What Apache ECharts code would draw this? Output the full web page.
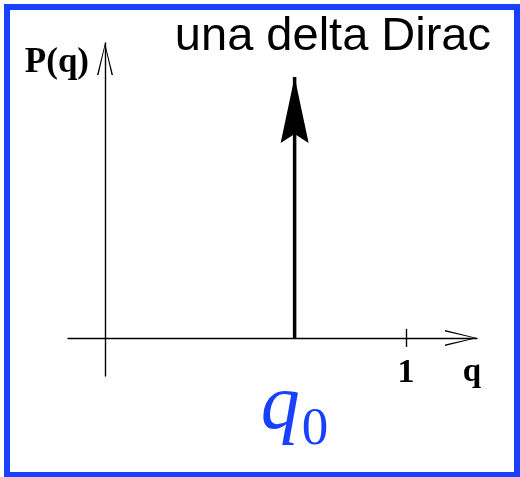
<!DOCTYPE html>
<html>
<head>
<meta charset="utf-8">
<title>una delta Dirac</title>
<script src="https://cdn.jsdelivr.net/npm/echarts@6/dist/echarts.min.js"></script>
<style>
  html, body { margin: 0; padding: 0; background: #fff; }
  #chart { width: 520px; height: 477px; }
</style>
</head>
<body>
<div id="chart"></div>
<script>
// Distribution P(q): a single Dirac delta located at q0
const titleText = 'una delta Dirac';
const xName = 'q';
const yName = 'P(q)';
const xExtent = [-0.123, 1.236];
const yExtent = [-0.146, 1.13];
const tickValues = [1];
const tickLabels = ['1'];
const deltaPosition = [0.63, 0.63];
const deltaHeight = [0, 1];
const deltaLabel = ['q', '0'];

const BLUE = '#1a40ff';
const SERIF = '"Liberation Serif", "DejaVu Serif", serif';
const SANS = '"Liberation Sans", Arial, sans-serif';

// open chevron used as the axis arrow heads
const openArrow = 'path://M8 0 L16 32 L14.5 32 L8 3.2 L1.5 32 L0 32 Z';
// filled notched arrow head on top of the delta spike
const spikeArrow = 'path://M14 0 L28 66 L14 57 L0 66 Z';

const deltaData = deltaPosition.map((x, i) => {
  const item = { value: [x, deltaHeight[i]] };
  if (i === 0) {
    item.label = {
      show: true,
      position: 'bottom',
      distance: 30,
      formatter: '{q|' + deltaLabel[0] + '}{z|' + deltaLabel[1] + '}',
      rich: {
        q: { fontFamily: SERIF, fontStyle: 'italic', fontSize: 78, color: BLUE, verticalAlign: 'bottom', padding: [0, 2, 10, 0] },
        z: { fontFamily: SERIF, fontSize: 53, color: BLUE, verticalAlign: 'bottom' }
      }
    };
  }
  return item;
});

const chart = echarts.init(document.getElementById('chart'), null, { renderer: 'canvas' });
chart.setOption({
  animation: false,
  backgroundColor: '#fff',
  title: {
    text: titleText,
    right: 24,
    top: 9,
    textStyle: { fontFamily: SANS, fontSize: 47, fontWeight: 'normal', color: '#000' }
  },
  graphic: [{
    type: 'rect',
    shape: { x: 7, y: 7, width: 510, height: 468 },
    style: { fill: 'none', stroke: BLUE, lineWidth: 6 },
    z: 100
  }],
  grid: { left: 68, right: 43, top: 43, bottom: 101, containLabel: false },
  xAxis: [{
    type: 'value',
    min: xExtent[0],
    max: xExtent[1],
    name: xName,
    nameLocation: 'end',
    nameGap: -5,
    nameTextStyle: { fontFamily: SERIF, fontWeight: 'bold', fontSize: 33, color: '#000', align: 'center', verticalAlign: 'top', padding: [18, 0, 0, 0] },
    axisLine: {
      onZero: true, onZeroAxisIndex: 0,
      symbol: ['none', openArrow], symbolSize: [16, 32], symbolOffset: [0, -16],
      lineStyle: { color: '#000', width: 1.4 }
    },
    axisTick: { show: true, customValues: tickValues, length: 9, lineStyle: { color: '#000', width: 1.4 } },
    axisLabel: {
      show: true, customValues: tickValues, margin: -20,
      formatter: v => tickLabels[tickValues.indexOf(v)] || '',
      fontFamily: SERIF, fontWeight: 'bold', fontSize: 34, color: '#000'
    },
    splitLine: { show: false }
  }, {
    // upper half of the crossing tick mark
    type: 'value',
    position: 'top',
    min: xExtent[0],
    max: xExtent[1],
    axisLine: { show: false, onZero: true, onZeroAxisIndex: 0 },
    axisTick: { show: true, customValues: tickValues, length: 9, lineStyle: { color: '#000', width: 1.4 } },
    axisLabel: { show: false },
    splitLine: { show: false }
  }],
  yAxis: {
    type: 'value',
    min: yExtent[0],
    max: yExtent[1],
    name: yName,
    nameLocation: 'end',
    nameGap: -2,
    nameTextStyle: { fontFamily: SERIF, fontWeight: 'bold', fontSize: 35, color: '#000', align: 'right', verticalAlign: 'top', padding: [0, 16, 0, 0] },
    axisLine: {
      onZero: true, onZeroAxisIndex: 0,
      symbol: ['none', openArrow], symbolSize: [16, 32], symbolOffset: [0, -16],
      lineStyle: { color: '#000', width: 1.4 }
    },
    axisTick: { show: false },
    axisLabel: { show: false },
    splitLine: { show: false }
  },
  series: [{
    type: 'line',
    xAxisIndex: 0,
    yAxisIndex: 0,
    data: deltaData,
    symbol: (val, params) => params.dataIndex === 0 ? 'circle' : spikeArrow,
    symbolSize: (val, params) => params.dataIndex === 0 ? 1 : [28, 66],
    symbolOffset: (val, params) => params.dataIndex === 0 ? [0, 0] : [0, 33],
    symbolKeepAspect: false,
    showSymbol: true,
    showAllSymbol: true,
    lineStyle: { color: '#000', width: 3.5 },
    itemStyle: { color: '#000' },
    clip: false,
    z: 5
  }]
});
</script>
</body>
</html>
